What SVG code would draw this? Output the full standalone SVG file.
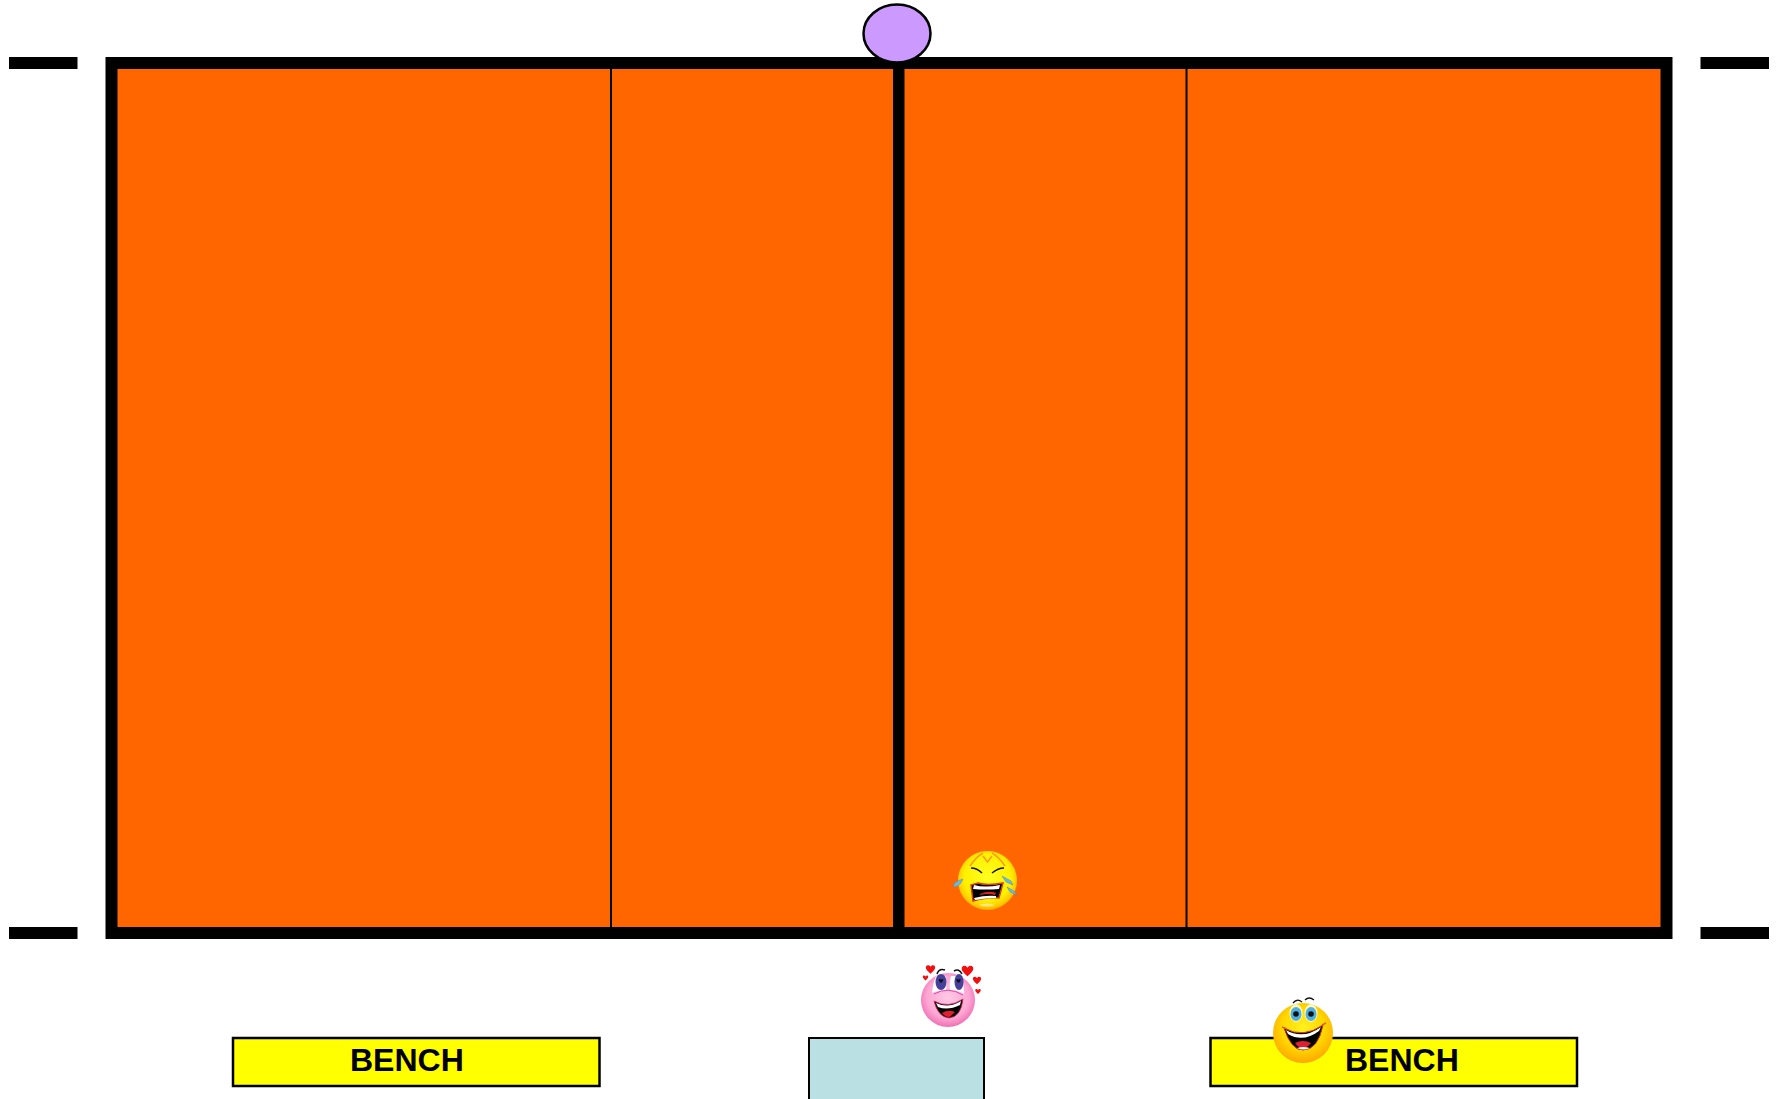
<svg xmlns="http://www.w3.org/2000/svg" width="1777" height="1099" viewBox="0 0 1777 1099">
<style>
.bar{fill:#000}
.bench{fill:#ff0;stroke:#000;stroke-width:2.5}
.lbl{font:bold 32px "Liberation Sans",Arial,sans-serif;fill:#000}
.white{fill:#fff}
.drop{fill:#6db8dc;stroke:#3d8fc0;stroke-width:.5}
.heart{fill:#f01010}
</style>
<defs>
<radialGradient id="yel" cx=".5" cy=".45" r=".55"><stop offset="0" stop-color="#ffff20"/><stop offset=".72" stop-color="#fff000"/><stop offset=".92" stop-color="#ffc800"/><stop offset="1" stop-color="#ffa800"/></radialGradient>
<radialGradient id="yel2" cx=".5" cy=".42" r=".58"><stop offset="0" stop-color="#fff020"/><stop offset=".6" stop-color="#ffd800"/><stop offset=".9" stop-color="#ffb400"/><stop offset="1" stop-color="#ffa400"/></radialGradient>
<radialGradient id="pnk" cx=".5" cy=".45" r=".55"><stop offset="0" stop-color="#ffc8e4"/><stop offset=".7" stop-color="#fca8d4"/><stop offset="1" stop-color="#f070b4"/></radialGradient>
<path id="h" d="M0 5C-3 2-5.500 0-5.500-2.500-5.500-5-2-6 0-3.200 2-6 5.500-5 5.500-2.500 5.500 0 3 2 0 5Z"/>
</defs>
<g id="court">
<rect x="111.500" y="63" width="1555" height="870" fill="#f60" stroke="#000" stroke-width="12"/>
<rect class="bar" x="893" y="63" width="11.500" height="870"/>
<rect class="bar" x="610" y="63" width="2" height="870"/>
<rect class="bar" x="1185.500" y="63" width="2" height="870"/>
</g>
<g id="posts">
<rect class="bar" x="9" y="57" width="68.500" height="12"/>
<rect class="bar" x="1700.500" y="57" width="68.500" height="12"/>
<rect class="bar" x="9" y="927" width="68.500" height="12"/>
<rect class="bar" x="1700.500" y="927" width="68.500" height="12"/>
</g>
<g id="referee-stand"><ellipse cx="897" cy="33.500" rx="33.500" ry="29" fill="#c9f" stroke="#000" stroke-width="2.500"/></g>
<g id="bench-left"><rect class="bench" x="233" y="1038" width="366.500" height="48"/><text class="lbl" x="350" y="1071">BENCH</text></g>
<g id="table"><rect x="809" y="1038" width="175" height="70" fill="#bbe0e3" stroke="#000" stroke-width="2"/></g>
<g id="bench-right"><rect class="bench" x="1210.500" y="1038" width="366.500" height="48"/><text class="lbl" x="1345" y="1071">BENCH</text></g>
<g id="face-crying">
<circle cx="987.500" cy="880.500" r="29.500" fill="url(#yel)"/>
<path d="M970 866Q976 857 983 853M1005 866Q999 857 992 853M983 856 987.500 862 992 856" fill="none" stroke="#ff9a20" stroke-width="1.500"/>
<path d="M971 868Q977 868 982 873M1004 868Q998 868 992 873" fill="none" stroke="#111" stroke-width="1.400"/>
<path d="M971 885 978 883Q987 886 1003 883L999 898Q988 897 973 901Z" fill="#000" stroke="#d84010" stroke-width="1.500"/>
<path d="M974 885Q985 888 1000 885L999 889Q986 890 973 889ZM974 898Q986 895 996 896L996 898Q986 898 975 900Z" class="white"/>
<path d="M980 894Q989 890 996 893L995 895Q988 893 980 895Z" fill="#e02020"/>
<path d="M979 905Q986 902 995 905 987 908 979 905Z" fill="#ffe880"/>
<path class="drop" d="M953 886Q955 881 963 879 961 885 955 887ZM1002 876 1011 881 1013 885 1006 882ZM1007 887 1014 891 1017 895 1010 892Z"/>
</g>
<g id="face-love">
<circle cx="948" cy="1000" r="27" fill="url(#pnk)"/>
<path d="M932 993Q933 983 936 976H946Q947 984 946 990 936 991 932 993ZM950 990Q949 984 951 976H961Q964 984 964 994 958 990 950 990Z" class="white"/>
<path d="M934 994Q948 986 963 995" fill="none" stroke="#e020a0" stroke-width=".8"/>
<ellipse cx="941" cy="982" rx="5.500" ry="8" fill="#44409c"/>
<ellipse cx="959" cy="982" rx="4.500" ry="8" fill="#44409c"/>
<use href="#h" fill="#111" transform="translate(941 981) scale(.4)"/>
<use href="#h" fill="#111" transform="translate(958.500 981) scale(.4)"/>
<path d="M937 974Q939 968 945 970M954 971Q959 968 962 974" fill="none" stroke="#111" stroke-width="1.500"/>
<path d="M934 1001Q948 1009 963 999 961 1017 949 1018 938 1017 934 1001Z" fill="#000" stroke="#e02060" stroke-width=".8"/>
<path d="M936 1003Q948 1009 961 1001L960 1005Q948 1011 938 1007Z" class="white"/>
<path d="M942 1013Q948 1009 955 1012 950 1017 949 1017 945 1017 942 1013Z" fill="#e02030"/>
<g class="heart">
<use href="#h" transform="translate(930.500 969.500) scale(.85)"/>
<use href="#h" transform="translate(967.500 971) scale(1.050)"/>
<use href="#h" transform="translate(925.500 978) scale(.5)"/>
<use href="#h" transform="translate(977 980.500) scale(.75)"/>
<use href="#h" transform="translate(978 991.500) scale(.5)"/>
</g>
</g>
<g id="face-happy">
<circle cx="1303" cy="1033" r="30" fill="url(#yel2)"/>
<ellipse cx="1296" cy="1013" rx="6.500" ry="9" fill="#fff8c0"/>
<ellipse cx="1311" cy="1013" rx="6.500" ry="9" fill="#fff8c0"/>
<ellipse cx="1296" cy="1014" rx="5.500" ry="7" fill="#4fb0e0"/>
<ellipse cx="1311" cy="1014" rx="5.500" ry="7" fill="#4fb0e0"/>
<circle cx="1296" cy="1014" r="2.800" fill="#111"/>
<circle cx="1311" cy="1014" r="2.800" fill="#111"/>
<path d="M1293 1003Q1297 998 1302 1002M1305 1000Q1309 996 1314 1000" fill="none" stroke="#111" stroke-width="1.300"/>
<path d="M1284 1028Q1303 1039 1323 1025 1318 1050 1303 1050 1291 1050 1284 1028Z" fill="#000" stroke="#d83010" stroke-width="1"/>
<path d="M1286 1030Q1303 1040 1321 1027L1319 1031Q1303 1043 1288 1034Z" class="white"/>
<path d="M1295 1043Q1303 1039 1311 1043 1307 1048 1303 1048 1298 1048 1295 1043Z" fill="#e02030"/>
<path d="M1297 1048Q1303 1046 1310 1048 1303 1051 1297 1048Z" class="white"/>
<path d="M1282 1027 1287 1029M1322 1025 1326 1023" stroke="#e06020" stroke-width="1.500" fill="none"/>
</g>
</svg>
